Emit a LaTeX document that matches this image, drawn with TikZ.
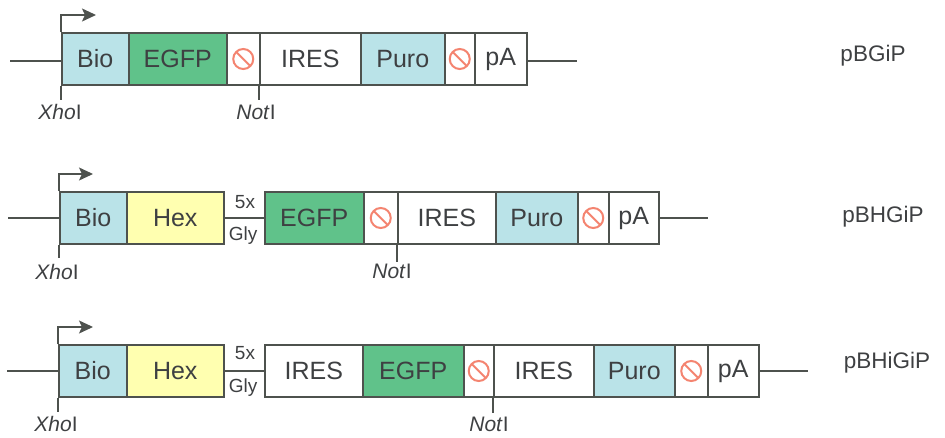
\documentclass[tikz,border=0pt]{standalone}
\usepackage{fontspec}
\setmainfont{Liberation Sans}
\usetikzlibrary{arrows.meta}
\definecolor{biocol}{RGB}{186,227,232}
\definecolor{egfpcol}{RGB}{96,194,138}
\definecolor{hexcol}{RGB}{255,255,176}
\definecolor{bordercol}{RGB}{78,82,78}
\definecolor{textcol}{RGB}{62,64,66}
\definecolor{stopcol}{RGB}{244,132,112}
\tikzset{
  part/.style={draw=bordercol, line width=1.5pt, minimum height=52pt, inner sep=0pt, anchor=west, font=\fontsize{25}{30}\selectfont, text=textcol},
  wire/.style={draw=bordercol, line width=1.4pt},
  prom/.style={draw=bordercol, line width=1.6pt, -{Stealth[length=14pt,width=13pt,inset=3pt]}},
  site/.style={font=\fontsize{21}{25}\selectfont, text=textcol, inner sep=0pt},
  lnk/.style={font=\fontsize{19}{22}\selectfont, text=textcol, inner sep=0pt},
  plasname/.style={font=\fontsize{22.5}{27}\selectfont, text=textcol, inner sep=0pt},
  stopsym/.style={draw=stopcol, line width=2pt}
}
\begin{document}
\begin{tikzpicture}[x=1pt,y=-1pt]
\useasboundingbox (0,0) rectangle (945,438);
% ---------- row 1: pBGiP ----------
\node[part, fill=biocol, minimum width=67pt] (ab) at (61,59) {Bio};
\node[part, fill=egfpcol, minimum width=98pt] (ae) at (128,59) {EGFP};
\node[part, fill=white, minimum width=33pt] (as1) at (226,59) {};
\node[part, fill=white, minimum width=101pt] (ai) at (259,59) {IRES};
\node[part, fill=biocol, minimum width=84pt] (ap) at (360,59) {Puro};
\node[part, fill=white, minimum width=30pt] (as2) at (444,59) {};
\node[part, fill=white, minimum width=52pt] (aa) at (474,59) {pA};
\coordinate (al) at (10,61);
\coordinate (ar) at (577,61);
\draw[wire] (al) -- (ab.west |- al);
\draw[wire] (aa.east |- ar) -- (ar);
\coordinate (aarr) at (96,15);
\draw[prom] (ab.north west) |- (aarr);
\coordinate (axt) at (61,100);
\draw[wire] (ab.south west) -- (axt);
\node[site] (ax) at (60,112) {\textit{Xho}I};
\coordinate (ant) at (259,100);
\draw[wire] (ai.south west) -- (ant);
\node[site] (an) at (256,112) {\textit{Not}I};
\node[plasname] (aname) at (873,56) {pBGiP};
% ---------- row 2: pBHGiP ----------
\node[part, fill=biocol, minimum width=67pt] (bb) at (59,218) {Bio};
\node[part, fill=hexcol, minimum width=97pt] (bh) at (126,218) {Hex};
\node[part, fill=egfpcol, minimum width=99pt] (be) at (264,218) {EGFP};
\node[part, fill=white, minimum width=34pt] (bs1) at (363,218) {};
\node[part, fill=white, minimum width=98pt] (bi) at (397,218) {IRES};
\node[part, fill=biocol, minimum width=82pt] (bp) at (495,218) {Puro};
\node[part, fill=white, minimum width=31pt] (bs2) at (577,218) {};
\node[part, fill=white, minimum width=50pt] (ba) at (608,218) {pA};
\coordinate (bl) at (8,218);
\coordinate (br) at (708,218);
\draw[wire] (bl) -- (bb.west);
\draw[wire] (ba.east) -- (br);
\draw[wire] (bh.east) -- (be.west);
\node[lnk] (b5x) at (245,202) {5x};
\node[lnk] (bgly) at (243,236) {Gly};
\coordinate (barr) at (93,174);
\draw[prom] (bb.north west) |- (barr);
\coordinate (bxt) at (59,258);
\draw[wire] (bb.south west) -- (bxt);
\node[site] (bx) at (57,272) {\textit{Xho}I};
\coordinate (bnt) at (397,262);
\draw[wire] (bi.south west) -- (bnt);
\node[site] (bn) at (392,271) {\textit{Not}I};
\node[plasname] (bname) at (883,217) {pBHGiP};
% ---------- row 3: pBHiGiP ----------
\node[part, fill=biocol, minimum width=68pt] (cb) at (58,371) {Bio};
\node[part, fill=hexcol, minimum width=97pt] (ch) at (126,371) {Hex};
\node[part, fill=white, minimum width=98pt] (ci1) at (264,371) {IRES};
\node[part, fill=egfpcol, minimum width=101pt] (ce) at (362,371) {EGFP};
\node[part, fill=white, minimum width=30pt] (cs1) at (463,371) {};
\node[part, fill=white, minimum width=100pt] (ci2) at (493,371) {IRES};
\node[part, fill=biocol, minimum width=81pt] (cp) at (593,371) {Puro};
\node[part, fill=white, minimum width=33pt] (cs2) at (674,371) {};
\node[part, fill=white, minimum width=51pt] (ca) at (707,371) {pA};
\coordinate (cl) at (7,371);
\coordinate (cr) at (808,371);
\draw[wire] (cl) -- (cb.west);
\draw[wire] (ca.east) -- (cr);
\draw[wire] (ch.east) -- (ci1.west);
\node[lnk] (c5x) at (245,353) {5x};
\node[lnk] (cgly) at (243,388) {Gly};
\coordinate (carr) at (93,327);
\draw[prom] (cb.north west) |- (carr);
\coordinate (cxt) at (58,412);
\draw[wire] (cb.south west) -- (cxt);
\node[site] (cx) at (56,424) {\textit{Xho}I};
\coordinate (cnt) at (493,413);
\draw[wire] (ci2.south west) -- (cnt);
\node[site] (cn) at (489,424) {\textit{Not}I};
\node[plasname] (cname) at (887,363) {pBHiGiP};
% ---------- stop symbols ----------
\foreach \s in {as1,as2,bs1,bs2,cs1,cs2}{
  \draw[stopsym] (\s.center) circle[radius=10pt];
  \draw[stopsym] (\s.center) ++(-7.1,-7.1) -- ++(14.2,14.2);
}
\end{tikzpicture}
\end{document}
